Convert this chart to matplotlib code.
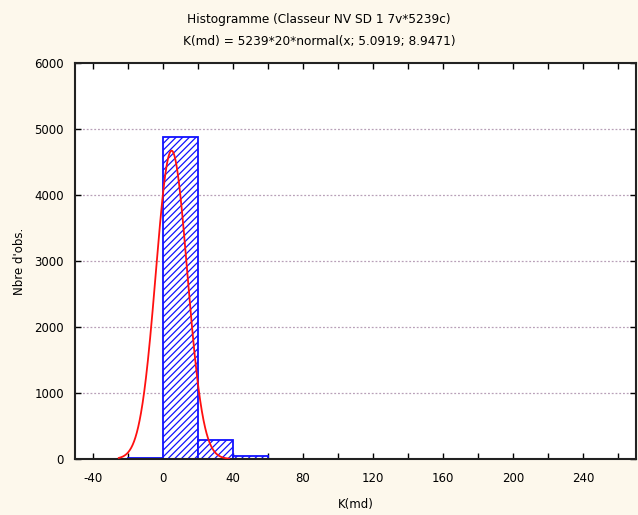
import numpy as np
import matplotlib
matplotlib.use("Agg")
import matplotlib.pyplot as plt

# Data
bin_left = [-20, 0, 20, 40]
bin_counts = [18, 4880, 290, 51]
bin_width = 20
n_total = 5239
mu, sigma = 5.0919, 8.9471
curve_range = (-25, 38)

title_lines = ["Histogramme (Classeur NV SD 1 7v*5239c)",
               "K(md) = 5239*20*normal(x; 5.0919; 8.9471)"]
x_ticks = [-40, 0, 40, 80, 120, 160, 200, 240]
y_ticks = [0, 1000, 2000, 3000, 4000, 5000, 6000]

plt.rcParams['font.family'] = ['DejaVu Sans']
plt.rcParams['axes.unicode_minus'] = False
plt.rcParams['hatch.linewidth'] = 0.9
plt.rcParams['hatch.color'] = '#1010ff'

fig = plt.figure(figsize=(6.38, 5.15), dpi=100, facecolor='#fdf8ec')
ax = fig.add_axes([75/638, 1-459/515, (636-75)/638, (459-63)/515])
ax.set_facecolor('white')

ax.bar(bin_left, bin_counts, width=bin_width, align='edge', facecolor='white',
       edgecolor='#1010ff', hatch='/////', linewidth=1.3, zorder=2)

xs = np.linspace(curve_range[0], curve_range[1], 400)
ys = n_total * bin_width * np.exp(-0.5 * ((xs - mu) / sigma) ** 2) / (sigma * np.sqrt(2 * np.pi))
ax.plot(xs, ys, color='#ff1010', linewidth=1.3, zorder=3)

ax.set_xlim(-50, 270)
ax.set_ylim(0, 6000)
ax.set_xticks(x_ticks)
ax.set_xticks(np.arange(-40, 270, 20), minor=True)
ax.set_yticks(y_ticks)
ax.tick_params(axis='both', which='both', direction='in', top=True, right=True,
               length=4, width=1, labelsize=8.5, colors='black')
ax.tick_params(axis='x', which='both', pad=9)
ax.tick_params(axis='y', which='both', pad=8)
ax.tick_params(axis='x', which='minor', labelbottom=False)
for y in y_ticks[1:-1]:
    ax.axhline(y, color='#b8a0b8', linestyle=(0, (1.5, 1.5)), linewidth=0.9, zorder=1)
for s in ax.spines.values():
    s.set_linewidth(1.5)
    s.set_color('#222222')

ax.set_xlabel('K(md)', fontsize=8.5, labelpad=10)
ax.set_ylabel("Nbre d'obs.", fontsize=8.5, labelpad=6)
fig.text(0.5, 1-20/515, title_lines[0], ha='center', va='center', fontsize=8.7)
fig.text(0.5, 1-41/515, title_lines[1], ha='center', va='center', fontsize=8.7)

fig.savefig('out.png', dpi=100, facecolor=fig.get_facecolor())
